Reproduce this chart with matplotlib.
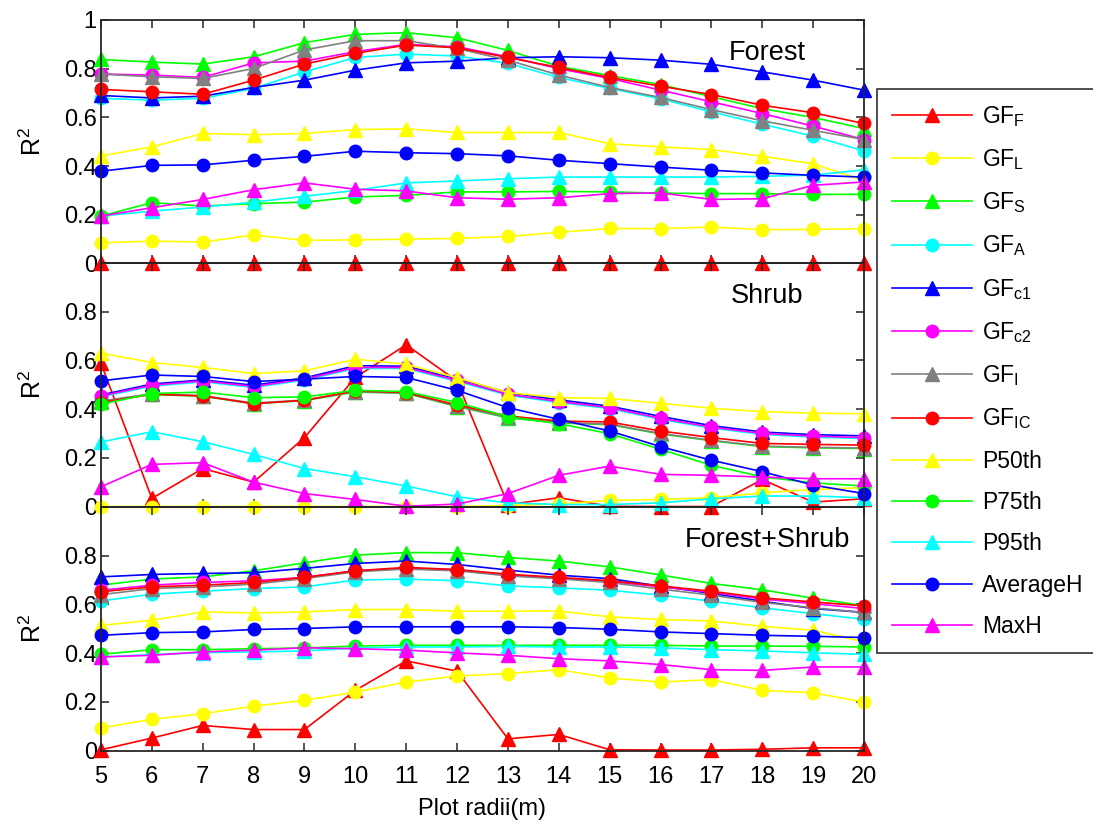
import matplotlib
matplotlib.use("Agg")
import matplotlib.pyplot as plt

plt.rcParams['font.family'] = ['Liberation Sans', 'DejaVu Sans']
plt.rcParams['mathtext.fontset'] = 'custom'
plt.rcParams['mathtext.rm'] = 'Liberation Sans'
plt.rcParams['mathtext.it'] = 'Liberation Sans:italic'
plt.rcParams['mathtext.bf'] = 'Liberation Sans:bold'

radii = [5, 6, 7, 8, 9, 10, 11, 12, 13, 14, 15, 16, 17, 18, 19, 20]

# ---------------- Forest ----------------
forest_gf_f = [0.0] * 16
forest_gf_l = [0.085, 0.092, 0.088, 0.117, 0.095, 0.097, 0.100, 0.103, 0.111, 0.128, 0.144, 0.143, 0.150, 0.139, 0.140, 0.143]
forest_gf_s = [0.838, 0.827, 0.819, 0.849, 0.907, 0.941, 0.948, 0.927, 0.875, 0.810, 0.772, 0.735, 0.685, 0.636, 0.600, 0.554]
forest_gf_a = [0.678, 0.671, 0.678, 0.719, 0.787, 0.846, 0.860, 0.852, 0.822, 0.764, 0.719, 0.676, 0.623, 0.572, 0.523, 0.462]
forest_gf_c1 = [0.690, 0.680, 0.687, 0.723, 0.753, 0.794, 0.824, 0.831, 0.845, 0.849, 0.845, 0.835, 0.818, 0.787, 0.753, 0.712]
forest_gf_c2 = [0.778, 0.774, 0.764, 0.824, 0.831, 0.870, 0.900, 0.890, 0.849, 0.800, 0.760, 0.712, 0.664, 0.616, 0.564, 0.509]
forest_gf_i = [0.778, 0.767, 0.760, 0.801, 0.877, 0.915, 0.915, 0.883, 0.835, 0.774, 0.723, 0.682, 0.632, 0.586, 0.547, 0.509]
forest_gf_ic = [0.715, 0.705, 0.695, 0.753, 0.819, 0.863, 0.897, 0.886, 0.846, 0.805, 0.764, 0.728, 0.694, 0.650, 0.619, 0.575]
forest_p50 = [0.442, 0.479, 0.534, 0.529, 0.534, 0.550, 0.553, 0.538, 0.538, 0.538, 0.492, 0.479, 0.468, 0.440, 0.410, 0.340]
forest_p75 = [0.195, 0.250, 0.236, 0.246, 0.252, 0.273, 0.280, 0.294, 0.294, 0.296, 0.294, 0.289, 0.287, 0.287, 0.284, 0.284]
forest_p95 = [0.195, 0.215, 0.232, 0.252, 0.276, 0.300, 0.331, 0.339, 0.348, 0.355, 0.355, 0.355, 0.355, 0.358, 0.363, 0.385]
forest_avgh = [0.379, 0.403, 0.405, 0.424, 0.440, 0.461, 0.455, 0.451, 0.442, 0.424, 0.410, 0.396, 0.383, 0.372, 0.362, 0.355]
forest_maxh = [0.195, 0.229, 0.263, 0.303, 0.331, 0.305, 0.298, 0.270, 0.264, 0.270, 0.287, 0.290, 0.263, 0.266, 0.321, 0.335]

# ---------------- Shrub ----------------
shrub_gf_f = [0.588, 0.033, 0.156, 0.100, 0.283, 0.530, 0.664, 0.515, 0.008, 0.036, 0.001, 0.0, 0.0, 0.111, 0.018, 0.032]
shrub_gf_l = [0.0, 0.0, 0.0, 0.0, 0.0, 0.0, 0.0, 0.0, 0.004, 0.010, 0.025, 0.029, 0.036, 0.056, 0.070, 0.077]
shrub_gf_s = [0.430, 0.460, 0.453, 0.422, 0.435, 0.470, 0.465, 0.410, 0.364, 0.343, 0.336, 0.298, 0.270, 0.246, 0.241, 0.238]
shrub_gf_a = [0.450, 0.494, 0.512, 0.489, 0.519, 0.567, 0.567, 0.514, 0.457, 0.427, 0.402, 0.358, 0.322, 0.296, 0.285, 0.279]
shrub_gf_c1 = [0.458, 0.503, 0.520, 0.498, 0.528, 0.578, 0.576, 0.525, 0.468, 0.438, 0.412, 0.370, 0.332, 0.306, 0.295, 0.290]
shrub_gf_c2 = [0.454, 0.498, 0.516, 0.493, 0.523, 0.571, 0.571, 0.518, 0.461, 0.431, 0.406, 0.362, 0.326, 0.300, 0.289, 0.283]
shrub_gf_i = [0.433, 0.463, 0.455, 0.425, 0.437, 0.472, 0.466, 0.412, 0.366, 0.345, 0.338, 0.300, 0.272, 0.248, 0.243, 0.240]
shrub_gf_ic = [0.427, 0.461, 0.454, 0.422, 0.436, 0.475, 0.468, 0.417, 0.372, 0.351, 0.347, 0.310, 0.283, 0.259, 0.255, 0.252]
shrub_p50 = [0.630, 0.591, 0.571, 0.546, 0.557, 0.605, 0.584, 0.529, 0.468, 0.447, 0.444, 0.424, 0.403, 0.390, 0.383, 0.381]
shrub_p75 = [0.420, 0.464, 0.470, 0.447, 0.450, 0.477, 0.472, 0.427, 0.369, 0.340, 0.299, 0.235, 0.169, 0.122, 0.097, 0.084]
shrub_p95 = [0.265, 0.307, 0.266, 0.214, 0.156, 0.122, 0.084, 0.040, 0.015, 0.008, 0.008, 0.015, 0.032, 0.043, 0.043, 0.036]
shrub_avgh = [0.516, 0.540, 0.534, 0.513, 0.523, 0.534, 0.530, 0.477, 0.406, 0.358, 0.310, 0.246, 0.190, 0.143, 0.088, 0.053]
shrub_maxh = [0.081, 0.173, 0.180, 0.100, 0.053, 0.029, 0.001, 0.010, 0.053, 0.128, 0.166, 0.132, 0.128, 0.121, 0.114, 0.114]

# ---------------- Forest+Shrub ----------------
both_gf_f = [0.003, 0.051, 0.103, 0.086, 0.086, 0.247, 0.368, 0.326, 0.048, 0.066, 0.003, 0.002, 0.002, 0.005, 0.011, 0.011]
both_gf_l = [0.093, 0.128, 0.151, 0.182, 0.206, 0.240, 0.281, 0.306, 0.316, 0.332, 0.298, 0.281, 0.291, 0.247, 0.237, 0.199]
both_gf_s = [0.679, 0.704, 0.713, 0.738, 0.771, 0.802, 0.813, 0.812, 0.793, 0.778, 0.754, 0.721, 0.686, 0.660, 0.625, 0.595]
both_gf_a = [0.614, 0.642, 0.654, 0.665, 0.672, 0.700, 0.704, 0.697, 0.676, 0.668, 0.658, 0.638, 0.613, 0.586, 0.562, 0.539]
both_gf_c1 = [0.713, 0.723, 0.727, 0.730, 0.748, 0.768, 0.778, 0.764, 0.741, 0.720, 0.706, 0.675, 0.645, 0.613, 0.583, 0.567]
both_gf_c2 = [0.658, 0.679, 0.690, 0.697, 0.711, 0.738, 0.748, 0.741, 0.722, 0.708, 0.694, 0.672, 0.650, 0.622, 0.603, 0.583]
both_gf_i = [0.640, 0.665, 0.672, 0.683, 0.706, 0.734, 0.745, 0.738, 0.717, 0.705, 0.690, 0.663, 0.638, 0.608, 0.586, 0.567]
both_gf_ic = [0.652, 0.672, 0.679, 0.690, 0.711, 0.738, 0.752, 0.743, 0.724, 0.711, 0.697, 0.676, 0.654, 0.627, 0.610, 0.594]
both_p50 = [0.514, 0.535, 0.569, 0.565, 0.569, 0.579, 0.579, 0.572, 0.572, 0.573, 0.549, 0.538, 0.532, 0.510, 0.494, 0.446]
both_p75 = [0.395, 0.414, 0.414, 0.418, 0.421, 0.429, 0.432, 0.432, 0.432, 0.432, 0.432, 0.432, 0.429, 0.429, 0.428, 0.425]
both_p95 = [0.384, 0.394, 0.402, 0.405, 0.409, 0.421, 0.425, 0.425, 0.428, 0.425, 0.425, 0.422, 0.414, 0.409, 0.401, 0.395]
both_avgh = [0.473, 0.484, 0.487, 0.497, 0.501, 0.508, 0.508, 0.508, 0.508, 0.505, 0.498, 0.487, 0.480, 0.473, 0.469, 0.464]
both_maxh = [0.384, 0.391, 0.405, 0.412, 0.422, 0.418, 0.412, 0.401, 0.391, 0.377, 0.368, 0.353, 0.332, 0.329, 0.343, 0.343]

series_labels = [r'GF$_{\mathrm{F}}$', r'GF$_{\mathrm{L}}$', r'GF$_{\mathrm{S}}$', r'GF$_{\mathrm{A}}$',
                 r'GF$_{\mathrm{c1}}$', r'GF$_{\mathrm{c2}}$', r'GF$_{\mathrm{I}}$', r'GF$_{\mathrm{IC}}$',
                 'P50th', 'P75th', 'P95th', 'AverageH', 'MaxH']
series_colors = ['#FF0000', '#FFFF00', '#00FF00', '#00FFFF', '#0000FF', '#FF00FF', '#808080',
                 '#FF0000', '#FFFF00', '#00FF00', '#00FFFF', '#0000FF', '#FF00FF']
series_markers = ['^', 'o', '^', 'o', '^', 'o', '^', 'o', '^', 'o', '^', 'o', '^']

panel_titles = ['Forest', 'Shrub', 'Forest+Shrub']
panel_data = [
    [forest_gf_f, forest_gf_l, forest_gf_s, forest_gf_a, forest_gf_c1, forest_gf_c2, forest_gf_i,
     forest_gf_ic, forest_p50, forest_p75, forest_p95, forest_avgh, forest_maxh],
    [shrub_gf_f, shrub_gf_l, shrub_gf_s, shrub_gf_a, shrub_gf_c1, shrub_gf_c2, shrub_gf_i,
     shrub_gf_ic, shrub_p50, shrub_p75, shrub_p95, shrub_avgh, shrub_maxh],
    [both_gf_f, both_gf_l, both_gf_s, both_gf_a, both_gf_c1, both_gf_c2, both_gf_i,
     both_gf_ic, both_p50, both_p75, both_p95, both_avgh, both_maxh],
]

W, H = 1093, 821
fig = plt.figure(figsize=(W / 100, H / 100), dpi=100)
fig.patch.set_facecolor('white')

left_px, right_px = 101, 864
panel_tops_px = [20, 263, 507]
panel_h_px = 243.5
axis_color = '#262626'

handles = []
for i, (title, data) in enumerate(zip(panel_titles, panel_data)):
    top = panel_tops_px[i]
    ax = fig.add_axes([left_px / W, 1 - (top + panel_h_px) / H,
                       (right_px - left_px) / W, panel_h_px / H])
    ax.patch.set_visible(False)
    for vals, lab, col, mk in zip(data, series_labels, series_colors, series_markers):
        ms = 10.5 if mk == '^' else 9
        ln, = ax.plot(radii, vals, color=col, marker=mk, markersize=ms,
                      markerfacecolor=col, markeredgecolor=col, linewidth=1.2,
                      label=lab, clip_on=False)
        if i == 0:
            handles.append(ln)
    ax.set_xlim(5, 20)
    ax.set_ylim(0, 1)
    ax.set_xticks(radii)
    ax.set_yticks([0, 0.2, 0.4, 0.6, 0.8, 1.0])
    ylabels = ['0', '0.2', '0.4', '0.6', '0.8', '1' if i == 0 else '']
    ax.set_yticklabels(ylabels)
    if i == 2:
        ax.set_xticklabels([str(r) for r in radii])
        ax.set_xlabel('Plot radii(m)', fontsize=17, labelpad=7)
    else:
        ax.set_xticklabels([])
    ax.tick_params(direction='in', length=6, width=1.1, top=True, right=True,
                   labelsize=17, color=axis_color, labelcolor='black')
    ax.tick_params(axis='x', pad=11)
    ax.tick_params(axis='y', pad=3)
    for sp in ax.spines.values():
        sp.set_color(axis_color)
        sp.set_linewidth(1.3)
    ax.set_ylabel(r'R$^{2}$', fontsize=18)
    ax.yaxis.set_label_coords(-0.072, 0.5)
    ax.text(18.1, 0.865, title, fontsize=19.5, ha='center', va='center')

leg = fig.legend(handles=handles, labels=series_labels, loc='upper left',
                 bbox_to_anchor=(877 / W, 1 - 89 / H, 0.3, 0), mode='expand',
                 fontsize=16.5, frameon=True, fancybox=False, framealpha=1,
                 edgecolor='#404040', handlelength=3.5, handletextpad=0.45,
                 labelspacing=0.8, borderpad=0.65, borderaxespad=0, numpoints=1)
leg.get_frame().set_linewidth(1.3)

fig.savefig('out.png', dpi=100, facecolor='white')
